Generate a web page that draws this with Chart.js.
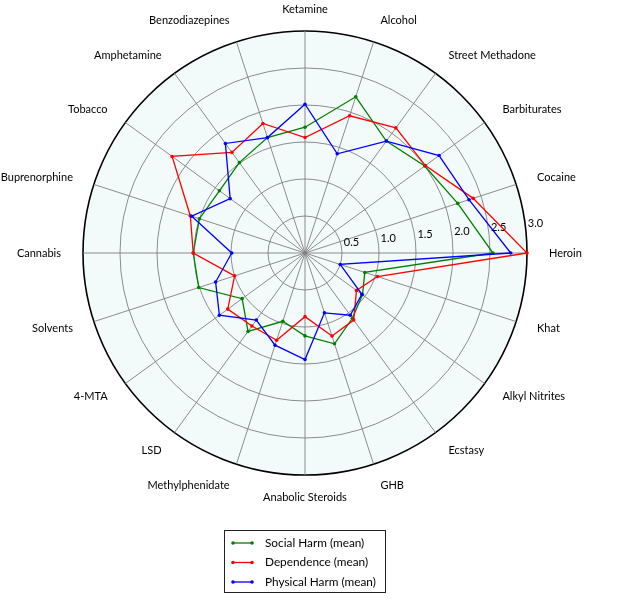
<!DOCTYPE html>
<html>
<head>
<meta charset="utf-8">
<script src="https://cdn.jsdelivr.net/npm/chart.js@4/dist/chart.umd.min.js"></script>
<style>
  html, body { margin: 0; padding: 0; background: #fff; }
  #wrap { width: 617px; height: 600px; }
</style>
</head>
<body>
<div id="wrap"><canvas id="chart"></canvas></div>
<script>
// drugs listed counterclockwise starting from Heroin (east), as in the picture
const drugs = ['Heroin', 'Cocaine', 'Barbiturates', 'Street Methadone', 'Alcohol', 'Ketamine',
  'Benzodiazepines', 'Amphetamine', 'Tobacco', 'Buprenorphine', 'Cannabis', 'Solvents',
  '4-MTA', 'LSD', 'Methylphenidate', 'Anabolic Steroids', 'GHB', 'Ecstasy', 'Alkyl Nitrites', 'Khat'];

const socialHarm = [2.54, 2.17, 2.00, 1.87, 2.22, 1.70, 1.64, 1.51, 1.43, 1.50,
  1.51, 1.51, 1.05, 1.31, 0.97, 1.12, 1.29, 1.09, 0.96, 0.85];
const dependence = [3.00, 2.39, 2.01, 2.09, 1.95, 1.56, 1.84, 1.68, 2.22, 1.63,
  1.51, 1.00, 1.29, 1.22, 1.24, 0.86, 1.18, 1.12, 0.86, 1.03];
const physicalHarm = [2.78, 2.33, 2.24, 1.87, 1.41, 2.01, 1.64, 1.83, 1.25, 1.61,
  0.99, 1.27, 1.43, 1.12, 1.31, 1.44, 0.85, 1.04, 0.95, 0.50];

const seriesNames = ['Social Harm (mean)', 'Dependence (mean)', 'Physical Harm (mean)'];
const rTicks = [0.5, 1.0, 1.5, 2.0, 2.5, 3.0];

// chart.js walks clockwise, the picture goes counterclockwise
const cw = a => [a[0], ...a.slice(1).reverse()];

const FONT = 'Lato, "DejaVu Sans", sans-serif';

// tick labels 0.5 .. 3.0, a little above the east spoke
const tickLabels = {
  id: 'tickLabels',
  beforeDatasetsDraw(chart) {
    const s = chart.scales.r;
    const ctx = chart.ctx;
    const a = 6 * Math.PI / 180;
    ctx.save();
    ctx.font = '11px ' + FONT;
    ctx.fillStyle = '#000';
    ctx.textAlign = 'left';
    ctx.textBaseline = 'bottom';
    rTicks.forEach(v => {
      const d = s.getDistanceFromCenterForValue(v);
      ctx.fillText(v.toFixed(1), s.xCenter + d * Math.cos(a) + 2, s.yCenter - d * Math.sin(a) - 1);
    });
    ctx.restore();
  }
};

// category labels placed outside the circle, matplotlib style
const catLabels = {
  id: 'catLabels',
  afterDraw(chart) {
    const s = chart.scales.r;
    const ctx = chart.ctx;
    const labels = chart.data.labels;
    ctx.save();
    ctx.font = '11px ' + FONT;
    ctx.fillStyle = '#000';
    ctx.textBaseline = 'middle';
    labels.forEach((lab, i) => {
      const p = s.getPointPosition(i, s.drawingArea + 16);
      const c = (p.x - s.xCenter) / (s.drawingArea + 16);
      const sn = -(p.y - s.yCenter) / (s.drawingArea + 16);
      let x = p.x + c * 6;
      if (c > 0.05) ctx.textAlign = 'left';
      else if (c < -0.05) ctx.textAlign = 'right';
      else ctx.textAlign = 'center';
      const y = p.y - sn * 6;
      ctx.fillText(lab, x, y);
    });
    ctx.restore();
  }
};

// boxed legend under the chart, line with a dot at each end
const boxLegend = {
  id: 'boxLegend',
  afterDraw(chart) {
    const ctx = chart.ctx;
    const sets = chart.data.datasets;
    const bx = 224, by = 530, bw = 161, bh = 62;
    ctx.save();
    ctx.fillStyle = '#fff';
    ctx.fillRect(bx, by, bw, bh);
    ctx.strokeStyle = '#222';
    ctx.lineWidth = 1;
    ctx.strokeRect(bx + 0.5, by + 0.5, bw, bh);
    ctx.font = '11.8px ' + FONT;
    ctx.textAlign = 'left';
    ctx.textBaseline = 'middle';
    sets.forEach((ds, i) => {
      const y = by + 13 + i * 19.5;
      ctx.strokeStyle = ds.borderColor;
      ctx.lineWidth = 1.3;
      ctx.beginPath();
      ctx.moveTo(bx + 8, y);
      ctx.lineTo(bx + 29, y);
      ctx.stroke();
      ctx.fillStyle = ds.borderColor;
      [bx + 9, bx + 28].forEach(px => {
        ctx.beginPath();
        ctx.arc(px, y, 1.8, 0, Math.PI * 2);
        ctx.fill();
      });
      ctx.fillStyle = '#000';
      ctx.fillText(ds.label, bx + 41, y);
    });
    ctx.restore();
  }
};

const colors = ['#008000', '#ff0000', '#0000ff'];
const values = [socialHarm, dependence, physicalHarm];

new Chart(document.getElementById('chart'), {
  type: 'radar',
  data: {
    labels: cw(drugs),
    datasets: values.map((v, i) => ({
      label: seriesNames[i],
      data: cw(v),
      borderColor: colors[i],
      backgroundColor: colors[i],
      pointBackgroundColor: colors[i],
      pointBorderColor: colors[i],
      borderWidth: 1.3,
      pointRadius: 1.8,
      pointBorderWidth: 0,
      pointHoverRadius: 2,
      fill: false,
      tension: 0,
      order: 3 - i
    }))
  },
  options: {
    responsive: true,
    maintainAspectRatio: false,
    animation: false,
    layout: { padding: { left: 83, right: 90, top: 31, bottom: 125 } },
    plugins: {
      legend: { display: false },
      tooltip: { enabled: false }
    },
    scales: {
      r: {
        min: 0,
        max: 3,
        startAngle: 90,
        backgroundColor: '#f3fafa',
        ticks: { stepSize: 0.5, display: false },
        pointLabels: { display: false },
        grid: {
          circular: true,
          color: ctx => ctx.tick && ctx.tick.value === 3 ? '#000' : '#808080',
          lineWidth: ctx => ctx.tick && ctx.tick.value === 3 ? 1.6 : 0.9
        },
        angleLines: { color: '#808080', lineWidth: 0.9 }
      }
    }
  },
  plugins: [tickLabels, catLabels, boxLegend]
});
</script>
</body>
</html>
